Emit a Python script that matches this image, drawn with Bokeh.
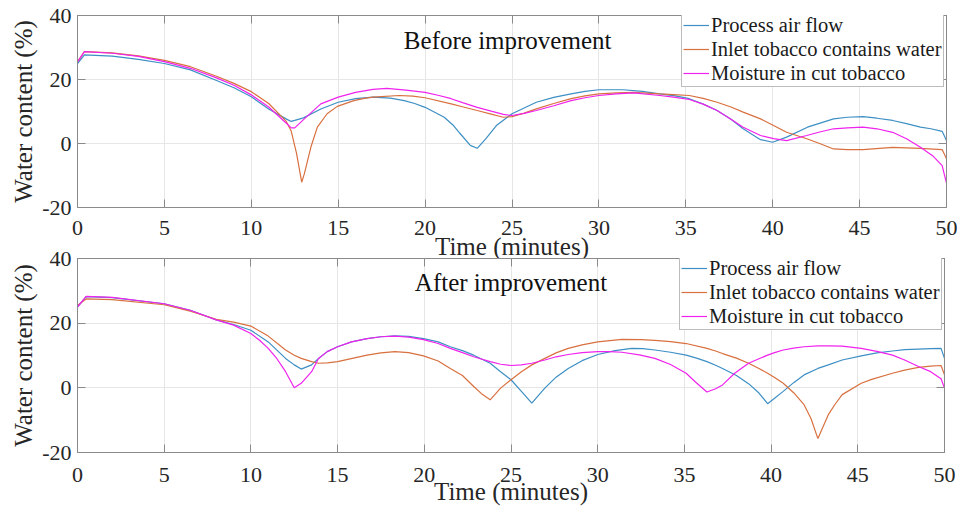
from bokeh.plotting import figure
from bokeh.models import Range1d, FixedTicker, LinearAxis, Legend, LegendItem, Label
from bokeh.layouts import column
from bokeh.embed import file_html
from bokeh.resources import INLINE

# ---------------- data ----------------
x_ticks = [0, 5, 10, 15, 20, 25, 30, 35, 40, 45, 50]
y_ticks = [-20, 0, 20, 40]
y_tick_labels = {-20: "-20", 0: "0", 20: "20", 40: "40"}
series_names = ["Process air flow", "Inlet tobacco contains water", "Moisture in cut tobacco"]

# ---- Before improvement ----
before_air_t = [0, 0.4, 2, 3.5, 5, 6.5, 8, 9, 10, 11, 12, 12.3, 13, 14, 15, 16, 17, 18, 18.8, 19.4,
                20, 21.1, 21.6, 22, 22.6, 23.0, 23.5, 24.1, 25, 26.4, 27.4, 28.4, 29.2, 30, 31.4,
                32.5, 33.5, 34.4, 35.2, 36, 36.8, 37.6, 38.3, 39.3, 40.0, 40.8, 42, 43.5, 44.3,
                45.2, 46, 46.9, 47.7, 48.5, 49.1, 49.75, 50]
before_air_v = [25, 27.7, 27.3, 26.3, 25, 23, 19.7, 17.4, 14.6, 10.8, 7.7, 6.9, 8.0, 10.8, 12.9, 14,
                14.5, 14.2, 13.4, 12.5, 11.3, 8.2, 5.8, 3.2, -0.6, -1.5, 1.5, 5.6, 9.3, 12.9, 14.4,
                15.5, 16.3, 16.8, 16.8, 16.3, 15.5, 14.9, 14, 12.3, 10.3, 7.6, 4.6, 1.2, 0.4, 2, 5.1,
                7.7, 8.2, 8.4, 7.9, 7.2, 6.2, 5.1, 4.6, 3.8, 0.9]

before_inlet_t = [0, 0.4, 2, 3.5, 5, 6.5, 8, 9, 10, 11, 12, 12.3, 12.6, 12.9, 13.05, 13.43, 13.8,
                  14.36, 14.95, 15.9, 16.5, 17, 18.5, 19.3, 20, 21.5, 22.2, 23, 23.8, 24.5, 25, 25.7,
                  26.4, 27.4, 28.4, 29.2, 30, 31, 32, 33.5, 34.3, 35.2, 36, 36.8, 37.6, 38.3, 39.3,
                  40.05, 40.8, 41.96, 42.7, 43.5, 44.3, 45.2, 46.9, 48.5, 49.75, 50]
before_inlet_v = [25.5, 28.7, 28.3, 27.4, 26.0, 24.0, 21.0, 18.8, 16.2, 12.5, 7.0, 3.8, -3.0, -12.1,
                  -9.5, -1.1, 5.1, 9.3, 11.6, 13.4, 14.1, 14.5, 15.0, 14.8, 14.3, 12.4, 11.4, 10.3,
                  9.2, 8.2, 8.4, 9.5, 10.8, 12.5, 14.0, 14.9, 15.5, 15.8, 16.0, 15.5, 15.3, 15.0,
                  14.1, 12.9, 11.4, 9.8, 7.7, 5.6, 3.5, 1.5, 0.0, -1.7, -1.9, -1.9, -1.2, -1.5, -1.9,
                  -4.8]

before_cut_t = [0, 0.4, 2, 3.5, 5, 6.5, 8, 9, 10, 11, 12, 12.3, 12.5, 13.05, 14, 15, 16, 17, 17.8,
                18.9, 20, 20.8, 21.5, 22.2, 23, 23.8, 24.5, 25, 25.7, 26.4, 27.4, 28.4, 29.2, 30, 31,
                32, 33.5, 34.3, 35.2, 36, 36.8, 37.6, 38.3, 39.3, 40.05, 40.8, 41.96, 42.7, 43.5,
                44.3, 45.2, 46, 46.9, 47.7, 48.5, 49.2, 49.75, 50]
before_cut_v = [25.5, 28.7, 28.2, 27.2, 25.6, 23.5, 20.5, 18.2, 15.2, 11.4, 6.4, 4.9, 4.9, 7.7, 12.4,
                14.5, 16.0, 16.9, 17.2, 16.7, 16.0, 15.0, 14.0, 12.7, 11.3, 10.1, 9.1, 8.75, 9.4,
                10.3, 11.8, 13.4, 14.3, 15.0, 15.5, 15.8, 15.0, 14.5, 13.75, 12.3, 10.3, 7.6, 5.1,
                2.5, 1.5, 0.9, 2.5, 3.6, 4.6, 4.9, 5.1, 4.6, 3.5, 1.5, -1.2, -3.8, -6.9, -12.4]

# ---- After improvement ----
after_air_t = [0, 0.5, 2, 5, 6.5, 8, 9, 10, 11, 12, 12.5, 12.9, 13.5, 13.9, 14.4, 15.0, 15.8, 16.7,
               17.5, 18.3, 19.1, 19.95, 20.8, 21.5, 22.2, 22.85, 23.3, 23.8, 24.4, 25.0, 25.6, 26.2,
               26.95, 27.6, 28.3, 29.1, 30.0, 31.0, 31.96, 32.6, 33.3, 34.2, 35.1, 35.7, 36.3, 36.8,
               37.2, 38.0, 38.7, 39.3, 39.8, 40.2, 40.7, 41.3, 41.9, 42.7, 43.3, 44.1, 45.2, 46.1,
               47.0, 47.7, 48.5, 49.2, 49.8, 50]
after_air_v = [25, 28.2, 27.9, 26, 24, 21, 19.6, 17.8, 14.2, 9.1, 7.1, 5.8, 7.1, 9.1, 11.2, 12.7, 14.2,
               15.2, 15.8, 16.1, 15.9, 15.2, 14.2, 12.7, 11.5, 10.1, 8.9, 7.6, 5.0, 2.5, -1.1, -4.7,
               -0.1, 3.3, 6.0, 8.4, 10.3, 11.5, 12.2, 12.1, 11.7, 11.0, 10.1, 9.2, 8.1, 7.0, 6.0, 3.8,
               1.3, -1.6, -4.9, -3.2, -1.1, 1.6, 4.0, 6.0, 7.1, 8.6, 9.9, 10.8, 11.4, 11.8, 12.0,
               12.1, 12.2, 9.1]

after_inlet_t = [0, 0.5, 2, 5, 6.5, 8, 9, 10, 11, 12, 12.5, 12.9, 13.5, 13.9, 14.4, 15.0, 16.7, 17.5,
                 18.3, 19.1, 19.95, 20.8, 21.5, 22.2, 22.85, 23.3, 23.8, 24.4, 25.0, 25.6, 26.2,
                 26.95, 27.6, 28.3, 29.1, 30.0, 31.4, 32.5, 33.3, 34.2, 35.1, 36.3, 36.8, 37.2, 38.0,
                 38.7, 39.3, 39.8, 40.2, 40.7, 41.3, 41.9, 42.3, 42.7, 43.3, 43.7, 44.1, 45.2, 45.8,
                 47.0, 47.7, 48.5, 49.2, 49.8, 50]
after_inlet_v = [25.5, 27.5, 27.3, 25.7, 23.7, 21.2, 20.3, 19.1, 16.0, 11.7, 10.1, 9.1, 8.1, 7.6, 7.7,
                 8.1, 10.1, 10.8, 11.2, 10.9, 9.9, 8.3, 6.0, 3.8, 0.4, -1.8, -3.7, -0.1, 2.5, 5.0,
                 7.1, 9.1, 10.8, 12.2, 13.3, 14.2, 15.0, 14.9, 14.7, 14.3, 13.7, 12.2, 11.4, 10.6,
                 9.2, 7.6, 6.0, 4.5, 3.2, 1.4, -1.5, -5.2, -9.5, -15.7, -8.3, -5.0, -2.1, 1.4, 2.6,
                 4.5, 5.5, 6.3, 6.7, 6.9, 4.0]

after_cut_t = [0, 0.5, 2, 5, 6.5, 8, 9, 10, 10.5, 11, 11.5, 12, 12.5, 12.9, 13.5, 13.9, 14.4, 15.0,
               15.8, 16.7, 17.5, 18.3, 19.1, 19.95, 20.8, 21.5, 22.2, 22.85, 23.8, 24.4, 25.0, 25.6,
               26.2, 26.95, 27.6, 28.3, 29.1, 30.0, 30.7, 31.4, 32.4, 33.3, 34.2, 35.1, 35.7, 36.3,
               36.8, 37.2, 37.9, 38.7, 39.3, 39.8, 40.2, 40.7, 41.3, 41.9, 42.7, 43.3, 44.1, 45.2,
               46.1, 47.0, 47.7, 48.5, 49.2, 49.8, 50]
after_cut_v = [25, 28.3, 28.0, 26, 24, 21, 19.4, 16.8, 14.7, 12.2, 9.0, 5.0, 0.0, 1.4, 5.0, 9.1, 11.2,
               12.7, 14.2, 15.2, 15.8, 16.0, 15.7, 14.9, 13.7, 12.2, 10.9, 9.6, 8.1, 7.3, 6.9, 7.1,
               7.6, 8.6, 9.6, 10.3, 10.9, 11.2, 11.2, 11.0, 10.2, 9.1, 7.2, 4.5, 1.5, -1.3, -0.3,
               0.9, 4.5, 7.6, 9.0, 10.1, 10.9, 11.7, 12.3, 12.7, 13.0, 13.0, 12.9, 12.2, 11.3, 10.1,
               8.6, 6.6, 5.0, 2.8, -0.1]

# ---------------- style ----------------
FONT = "Liberation Serif"
COLORS = ["#3d8fc4", "#d8703f", "#f022ee"]
AX = "#8a8a8a"
TXT = "#262626"


def style_axis(ax, ticks, tick_len=8):
    ax.ticker = FixedTicker(ticks=ticks)
    ax.axis_line_color = AX
    ax.major_tick_line_color = AX
    ax.major_tick_in = tick_len
    ax.major_tick_out = 0
    ax.minor_tick_line_color = None
    ax.major_label_text_font = FONT
    ax.major_label_text_font_size = "22px"
    ax.major_label_text_color = TXT
    ax.axis_label_text_font = FONT
    ax.axis_label_text_font_size = "25px"
    ax.axis_label_text_font_style = "normal"
    ax.axis_label_text_color = TXT


def make_panel(title, data, left, frame_w, right, top, frame_h, bottom,
               tick_standoff, xlab_standoff, title_xy, legend_xy):
    p = figure(frame_width=frame_w, frame_height=frame_h,
               x_range=Range1d(0, 50), y_range=Range1d(-20, 40),
               output_backend="svg", toolbar_location=None,
               min_border_left=left, min_border_right=right,
               min_border_top=top, min_border_bottom=bottom,
               background_fill_color="white", border_fill_color="white")
    p.outline_line_color = AX
    p.outline_line_width = 1

    style_axis(p.xaxis[0], x_ticks)
    style_axis(p.yaxis[0], y_ticks)
    p.yaxis[0].major_label_overrides = y_tick_labels
    p.xaxis[0].axis_label = "Time (minutes)"
    p.yaxis[0].axis_label = "Water content (%)"
    p.xaxis[0].major_label_standoff = tick_standoff
    p.xaxis[0].axis_label_standoff = xlab_standoff
    p.yaxis[0].major_label_standoff = 6
    p.yaxis[0].axis_label_standoff = 2

    for place, ticks in (("above", x_ticks), ("right", y_ticks)):
        ax = LinearAxis()
        style_axis(ax, ticks)
        ax.major_label_text_font_size = "1px"
        ax.major_label_text_color = None
        ax.major_label_standoff = 0
        p.add_layout(ax, place)

    p.xgrid.ticker = FixedTicker(ticks=x_ticks)
    p.ygrid.ticker = FixedTicker(ticks=y_ticks)
    p.xgrid.grid_line_color = "#e6e6e6"
    p.ygrid.grid_line_color = "#e6e6e6"

    items = []
    for (t, v), name, c in zip(data, series_names, COLORS):
        r = p.line(t, v, line_color=c, line_width=1.2)
        items.append(LegendItem(label=name, renderers=[r]))

    legend = Legend(items=items, location=legend_xy,
                    label_text_font=FONT, label_text_font_size="20.5px",
                    label_text_color="#1a1a1a",
                    glyph_width=26, glyph_height=24, label_height=24,
                    label_standoff=2, spacing=0, padding=1, margin=0,
                    border_line_color="#7a7a7a", border_line_width=1,
                    background_fill_color="white", background_fill_alpha=1.0)
    p.add_layout(legend)

    p.add_layout(Label(x=title_xy[0], y=title_xy[1], text=title,
                       text_font=FONT, text_font_size="25px", text_color="#111111",
                       text_align="center", text_baseline="middle"))
    return p


p1 = make_panel("Before improvement",
                [(before_air_t, before_air_v), (before_inlet_t, before_inlet_v),
                 (before_cut_t, before_cut_v)],
                left=73, frame_w=869, right=15, top=15, frame_h=192, bottom=30,
                tick_standoff=13, xlab_standoff=-5,
                title_xy=(24.75, 32.2), legend_xy=(604, 120))
p2 = make_panel("After improvement",
                [(after_air_t, after_air_v), (after_inlet_t, after_inlet_v),
                 (after_cut_t, after_cut_v)],
                left=77, frame_w=867, right=13, top=16, frame_h=194, bottom=30,
                tick_standoff=15, xlab_standoff=-7,
                title_xy=(25.0, 32.6), legend_xy=(602, 122))
# the lower panel overlaps the empty strip under the upper panel's axis title
p2.border_fill_alpha = 0
p2.margin = (-20, 0, 0, 0)

layout = column(p1, p2, spacing=0)
open("out.html", "w").write(file_html(layout, INLINE))
